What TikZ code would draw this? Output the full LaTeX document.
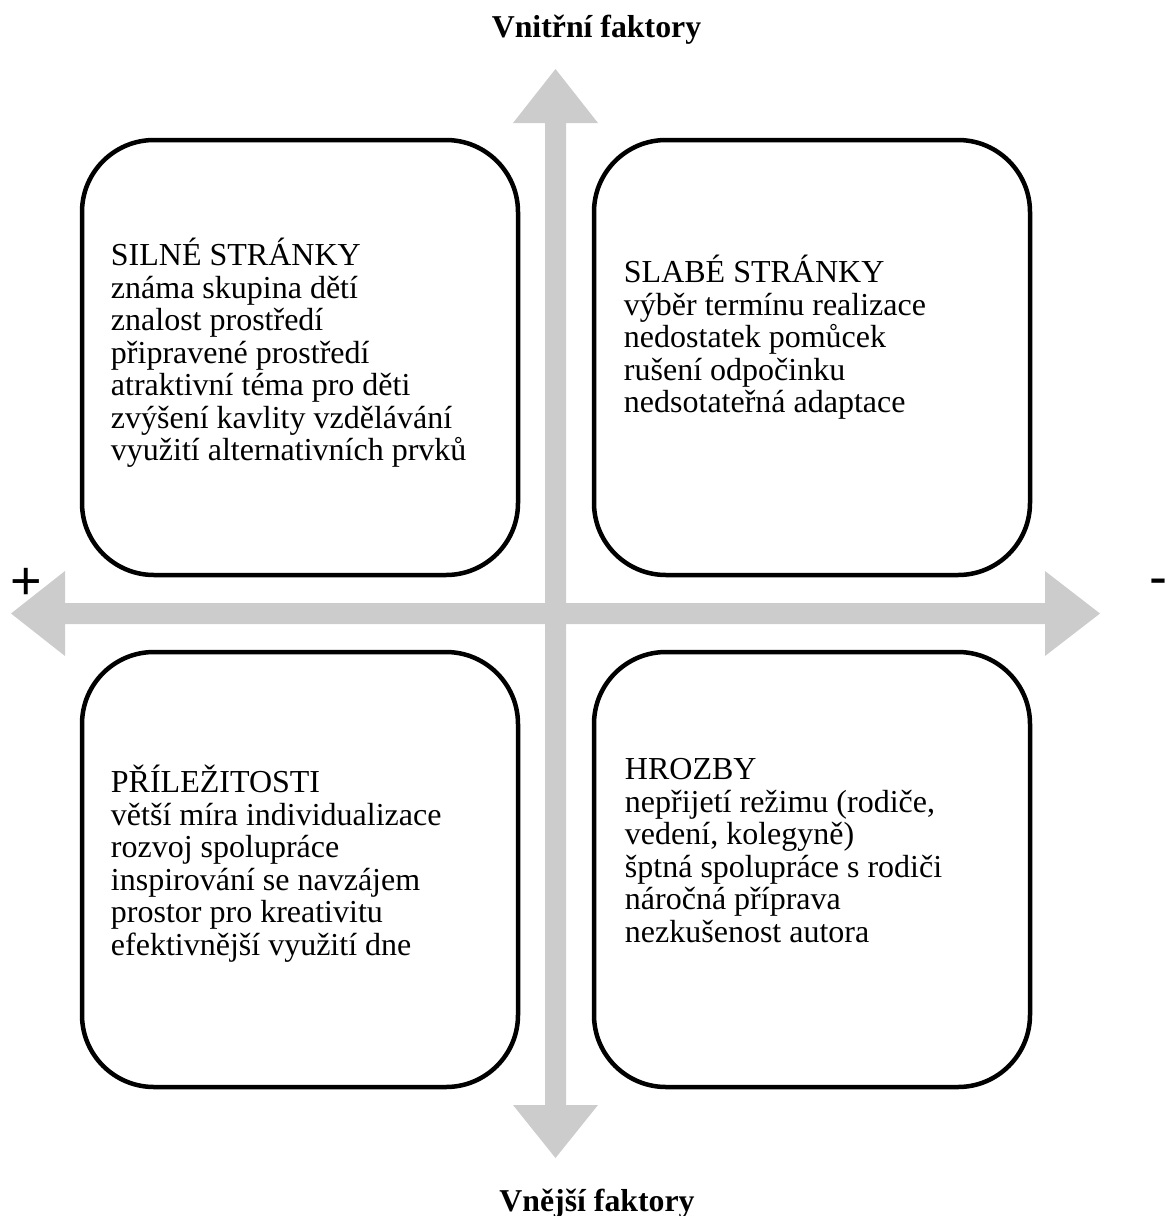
\documentclass[tikz,border=0pt]{standalone}
\usepackage{fontspec}
\setmainfont{Liberation Serif}
\newfontfamily\signfont{Liberation Sans}
\definecolor{axisgray}{RGB}{204,204,204}
\begin{document}
\begin{tikzpicture}[x=1pt,y=-1pt,
  swotbox/.style={draw=black, line width=4.5pt, rounded corners=72pt, minimum width=436pt, minimum height=435pt, inner sep=0pt},
  swottext/.style={anchor=base west, align=left, inner sep=0pt, font=\fontsize{32}{32.5}\selectfont},
  axisfill/.style={fill=axisgray, draw=none},
  axistitle/.style={anchor=base, inner sep=0pt, font=\bfseries\fontsize{31.8}{36}\selectfont},
  signtext/.style={anchor=base, inner sep=0pt, font=\signfont\fontsize{54}{60}\selectfont}]
\path[use as bounding box] (0,0) rectangle (1166,1216);
% axes
\fill[axisfill] (545,123) -- (513,123) -- (555.5,69) -- (598,123) -- (566,123) -- (566,1105) -- (598,1105) -- (555.5,1158) -- (513,1105) -- (545,1105) -- cycle;
\fill[axisfill] (65,603) -- (65,571) -- (11,613.5) -- (65,656) -- (65,624) -- (1045,624) -- (1045,656) -- (1100,613.5) -- (1045,571) -- (1045,603) -- cycle;
% boxes
\node[swotbox] (tl) at (300,357.5) {};
\node[swotbox] (tr) at (812,357.5) {};
\node[swotbox] (bl) at (300,869.5) {};
\node[swotbox] (br) at (812,869.5) {};
% texts (anchor = baseline of the last line)
\node[swottext, xshift=31pt, yshift=-323pt] (tltext) at (tl.north west) {SILNÉ STRÁNKY\\známa skupina dětí\\znalost prostředí\\připravené prostředí\\atraktivní téma pro děti\\zvýšení kavlity vzdělávání\\využití alternativních prvků};
\node[swottext, xshift=32pt, yshift=-275pt] (trtext) at (tr.north west) {SLABÉ STRÁNKY\\výběr termínu realizace\\nedostatek pomůcek\\rušení odpočinku\\nedsotateřná adaptace};
\node[swottext, xshift=31pt, yshift=-305.5pt] (bltext) at (bl.north west) {PŘÍLEŽITOSTI\\větší míra individualizace\\rozvoj spolupráce\\inspirování se navzájem\\prostor pro kreativitu\\efektivnější využití dne};
\node[swottext, xshift=33pt, yshift=-292.5pt] (brtext) at (br.north west) {HROZBY\\nepřijetí režimu (rodiče,\\vedení, kolegyně)\\šptná spolupráce s rodiči\\náročná příprava\\nezkušenost autora};
% titles
\node[axistitle] (top) at (596.5,37) {Vnitřní faktory};
\node[axistitle] (bottom) at (597,1211) {Vnější faktory};
% signs
\node[signtext] (plus) at (26,599) {+};
\node[signtext] (minus) at (1158,595) {-};
\end{tikzpicture}
\end{document}
